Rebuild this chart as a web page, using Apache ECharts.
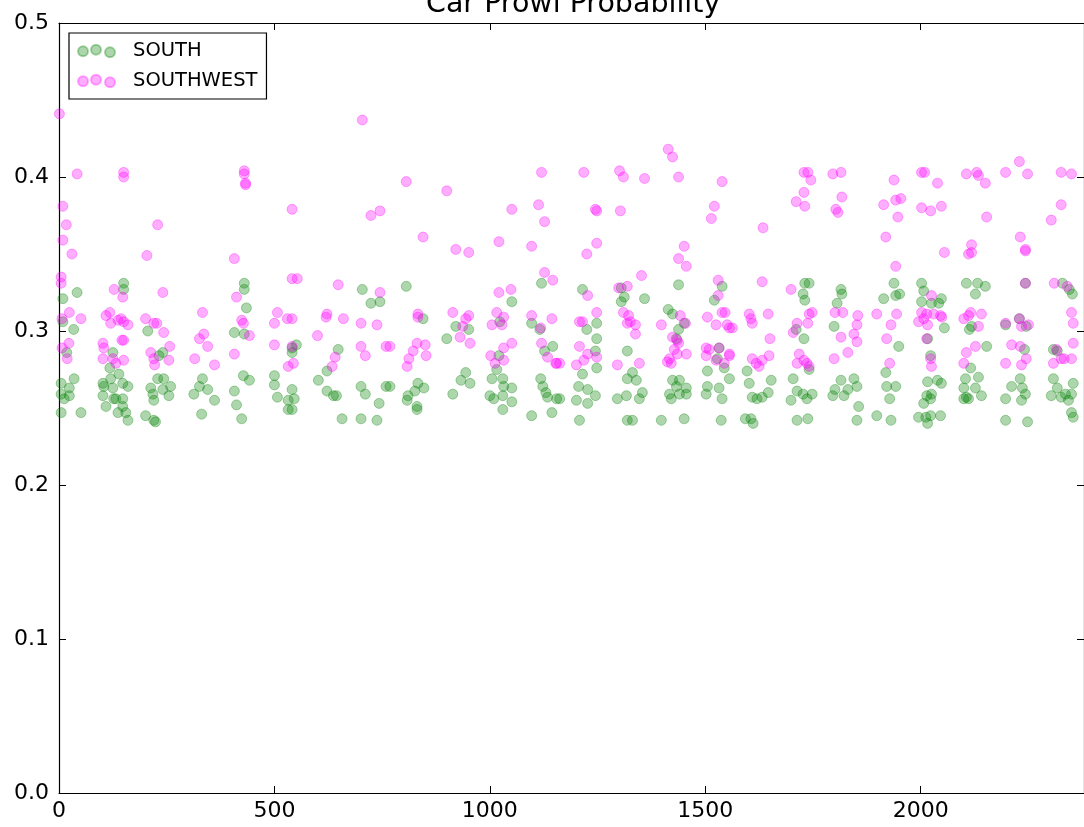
<!DOCTYPE html>
<html>
<head>
<meta charset="utf-8">
<script src="https://cdn.jsdelivr.net/npm/echarts@6/dist/echarts.min.js"></script>
<style>
  html, body { margin: 0; padding: 0; background: #fff; overflow: hidden; }
  #chart { width: 1084px; height: 827px; }
</style>
</head>
<body>
<div id="chart"></div>
<script>
// Car prowl probability per district sample index
const titleText = 'Car Prowl Probability';
const seriesNames = ['SOUTH', 'SOUTHWEST'];
const xTicks = [0, 500, 1000, 1500, 2000];
const yTicks = [0.0, 0.1, 0.2, 0.3, 0.4, 0.5];

const southPoints = [
  [150,0.331],[150,0.327],[42,0.325],[9,0.321],[9,0.306],[34,0.301],[206,0.300],[18,0.286],[125,0.286],[118,0.276],[241,0.286],[232,0.284],
  [35,0.269],[5,0.266],[24,0.263],[5,0.259],[24,0.258],[12,0.256],[51,0.247],[5,0.247],
  [102,0.266],[104,0.264],[120,0.269],[139,0.272],[148,0.266],[160,0.264],[125,0.263],[102,0.258],[127,0.256],[109,0.251],[132,0.256],[148,0.256],[148,0.251],[137,0.247],[155,0.247],[160,0.242],
  [213,0.263],[229,0.269],[243,0.269],[259,0.264],[218,0.259],[241,0.262],[255,0.258],[220,0.255],[201,0.245],[220,0.242],[224,0.241],
  [333,0.269],[326,0.264],[345,0.262],[313,0.259],[361,0.255],[331,0.246],
  [430,0.331],[430,0.327],[435,0.315],[407,0.299],[430,0.298],[704,0.327],[724,0.318],[745,0.319],[541,0.289],[551,0.291],[541,0.286],[648,0.288],[622,0.274],
  [428,0.271],[442,0.268],[407,0.261],[412,0.252],[424,0.243],
  [500,0.271],[500,0.265],[507,0.257],[541,0.262],[532,0.255],[546,0.256],[532,0.249],[541,0.249],
  [602,0.268],[622,0.261],[637,0.258],[644,0.258],[657,0.243],
  [701,0.264],[711,0.259],[759,0.264],[743,0.253],[701,0.243],[738,0.242],
  [806,0.329],[1120,0.331],[1051,0.319],[845,0.308],[921,0.303],[951,0.301],[900,0.295],
  [1023,0.306],[1097,0.305],[1116,0.301],[1146,0.290],[1127,0.287],[1021,0.284],[1016,0.275],
  [944,0.273],[933,0.268],[954,0.266],[914,0.259],
  [833,0.266],[847,0.263],[826,0.261],[810,0.258],[808,0.255],[831,0.251],[831,0.249],[768,0.264],
  [1005,0.269],[1030,0.269],[1032,0.264],[1051,0.263],[1000,0.258],[1030,0.258],[1009,0.256],[1051,0.254],[1030,0.249],
  [1118,0.269],[1123,0.264],[1130,0.260],[1134,0.257],[1155,0.256],[1097,0.245],[1144,0.247],
  [1215,0.327],[1305,0.328],[1312,0.322],[1305,0.319],[1359,0.321],[1438,0.330],[1539,0.329],[1521,0.320],
  [1414,0.314],[1424,0.311],[1438,0.301],[1451,0.305],[1433,0.295],
  [1248,0.305],[1225,0.301],[1248,0.295],[1245,0.287],[1248,0.276],[1215,0.272],[1206,0.264],[1227,0.262],[1245,0.258],[1201,0.255],[1227,0.253],[1208,0.242],[1162,0.256],
  [1319,0.287],[1331,0.273],[1319,0.269],[1340,0.268],[1354,0.260],[1317,0.258],[1296,0.256],[1347,0.256],[1319,0.242],[1331,0.242],
  [1398,0.242],[1451,0.243],
  [1424,0.268],[1440,0.268],[1433,0.264],[1456,0.263],[1417,0.259],[1440,0.259],[1456,0.259],[1421,0.256],
  [1532,0.289],[1528,0.282],[1544,0.276],[1505,0.274],[1556,0.269],[1505,0.264],[1532,0.263],[1502,0.259],[1539,0.256],[1537,0.242],
  [1731,0.331],[1741,0.331],[1727,0.324],[1731,0.320],[1815,0.327],[1817,0.324],[1806,0.318],
  [1938,0.331],[1914,0.321],[1942,0.323],[1951,0.324],
  [1711,0.301],[1729,0.295],[1799,0.303],[1949,0.290],
  [1597,0.274],[1602,0.266],[1609,0.257],[1620,0.256],[1632,0.257],[1646,0.260],[1653,0.268],[1593,0.243],[1606,0.243],[1611,0.240],
  [1741,0.275],[1704,0.269],[1699,0.255],[1713,0.261],[1727,0.259],[1736,0.256],[1748,0.259],[1713,0.242],[1738,0.243],
  [1815,0.268],[1845,0.269],[1852,0.264],[1801,0.262],[1796,0.258],[1822,0.258],[1831,0.262],[1856,0.251],[1852,0.242],[1898,0.245],
  [1919,0.273],[1921,0.264],[1942,0.264],[1928,0.256],[1931,0.242],
  [2002,0.331],[2007,0.326],[2002,0.319],[2025,0.318],[2042,0.318],[2048,0.321],[2055,0.302],
  [2106,0.331],[2132,0.331],[2150,0.329],[2127,0.324],[2118,0.303],[2113,0.301],
  [2243,0.331],[2329,0.331],[2345,0.327],[2352,0.324],
  [2197,0.304],[2229,0.308],[2245,0.303],
  [2016,0.295],[2153,0.290],[2116,0.276],
  [2023,0.284],[2016,0.267],[2039,0.268],[2048,0.266],[2014,0.258],[2025,0.259],[2023,0.256],[2007,0.253],[1995,0.244],[2012,0.244],[2023,0.245],[2046,0.245],[2016,0.240],
  [2104,0.269],[2100,0.263],[2134,0.270],[2127,0.263],[2106,0.257],[2141,0.258],[2100,0.256],[2111,0.256],
  [2241,0.288],[2231,0.269],[2211,0.264],[2236,0.263],[2243,0.259],[2197,0.256],[2234,0.255],[2197,0.242],[2248,0.241],
  [2308,0.288],[2317,0.287],[2308,0.269],[2317,0.263],[2336,0.259],[2303,0.258],[2326,0.257],[2350,0.259],[2343,0.255],[2354,0.266],[2350,0.247],[2354,0.244]
];

const southwestPoints = [
  [1,0.441],[42,0.402],[150,0.403],[150,0.400],[9,0.381],[17,0.369],[9,0.359],[30,0.350],[229,0.369],[204,0.349],[5,0.335],[5,0.331],[241,0.325],[128,0.327],[148,0.322],
  [24,0.312],[51,0.308],[7,0.308],
  [109,0.310],[118,0.312],[120,0.305],[137,0.307],[144,0.308],[150,0.306],[160,0.304],
  [201,0.308],[220,0.305],[227,0.305],[243,0.299],[257,0.290],
  [333,0.312],[336,0.298],[326,0.295],[345,0.290],[361,0.278],[315,0.282],
  [23,0.292],[19,0.282],[7,0.289],
  [102,0.292],[104,0.289],[102,0.282],[125,0.282],[132,0.279],[150,0.294],[146,0.294],[150,0.281],
  [213,0.286],[220,0.282],[222,0.278],[255,0.281],
  [704,0.437],[430,0.404],[430,0.402],[433,0.396],[433,0.395],[541,0.379],[724,0.375],[745,0.378],[407,0.347],[541,0.334],[553,0.334],[648,0.330],[745,0.325],[412,0.322],
  [507,0.312],[500,0.305],[530,0.308],[541,0.308],[424,0.307],[428,0.305],[442,0.297],
  [622,0.311],[620,0.309],[660,0.308],[701,0.305],[738,0.304],[600,0.297],
  [407,0.285],[500,0.291],[541,0.290],[544,0.279],[532,0.277],
  [641,0.283],[634,0.277],[701,0.290],[711,0.284],[759,0.290],
  [806,0.397],[900,0.391],[1120,0.403],[1051,0.379],[1113,0.382],[1127,0.371],[845,0.361],[921,0.353],[951,0.351],[1021,0.358],[1097,0.355],[1127,0.338],[1146,0.333],[1021,0.325],[1049,0.327],
  [833,0.311],[833,0.309],
  [914,0.312],[951,0.310],[944,0.308],[937,0.303],[931,0.296],[954,0.292],
  [1016,0.312],[1032,0.309],[1005,0.304],[1028,0.304],
  [1097,0.310],[1118,0.302],[1144,0.308],
  [831,0.292],[850,0.291],[822,0.287],[852,0.284],[812,0.282],[808,0.277],
  [1032,0.289],[1051,0.292],[1002,0.284],[1032,0.281],[1012,0.279],
  [1120,0.292],[1134,0.283],[1153,0.279],[1155,0.279],[768,0.290],
  [1414,0.418],[1424,0.413],[1218,0.403],[1301,0.404],[1310,0.400],[1359,0.399],[1438,0.400],[1539,0.397],
  [1245,0.379],[1248,0.378],[1303,0.378],[1521,0.381],[1514,0.373],
  [1248,0.357],[1225,0.350],[1451,0.355],[1438,0.347],[1456,0.342],
  [1352,0.336],[1319,0.329],[1299,0.328],[1530,0.333],[1530,0.323],
  [1227,0.323],[1248,0.312],[1208,0.306],[1215,0.306],
  [1310,0.312],[1322,0.310],[1326,0.306],[1319,0.305],[1338,0.304],[1338,0.298],
  [1398,0.304],[1442,0.310],[1454,0.305],[1424,0.296],[1435,0.294],[1438,0.292],[1428,0.288],[1456,0.285],[1435,0.285],[1417,0.282],[1421,0.279],[1412,0.280],
  [1505,0.309],[1525,0.304],[1539,0.312],[1546,0.312],[1551,0.304],[1556,0.302],
  [1208,0.290],[1227,0.285],[1218,0.281],[1201,0.278],[1248,0.283],[1162,0.279],
  [1296,0.278],[1347,0.279],
  [1502,0.289],[1509,0.288],[1532,0.289],[1502,0.284],[1525,0.281],[1544,0.279],[1556,0.285],
  [1729,0.403],[1738,0.403],[1745,0.398],[1796,0.402],[1815,0.403],[1938,0.398],
  [1729,0.390],[1711,0.384],[1731,0.381],[1817,0.387],[1803,0.379],[1808,0.377],
  [1914,0.382],[1942,0.385],[1954,0.386],[1947,0.374],
  [1634,0.367],[1919,0.361],[1942,0.342],[1632,0.332],[1699,0.327],
  [1602,0.311],[1606,0.308],[1609,0.305],[1646,0.311],[1563,0.302],[1650,0.295],
  [1741,0.311],[1748,0.312],[1738,0.305],[1713,0.305],[1704,0.299],
  [1801,0.312],[1819,0.312],[1854,0.310],[1852,0.304],[1845,0.298],[1852,0.293],[1815,0.296],[1831,0.286],[1799,0.282],
  [1898,0.311],[1944,0.311],[1931,0.304],[1921,0.295],
  [1556,0.284],[1609,0.282],[1618,0.279],[1625,0.277],[1632,0.281],[1648,0.284],
  [1718,0.285],[1713,0.279],[1729,0.281],[1736,0.279],[1741,0.277],[1928,0.279],
  [2002,0.403],[2009,0.403],[2039,0.396],[2106,0.402],[2130,0.403],[2134,0.401],[2150,0.396],
  [2229,0.410],[2197,0.403],[2248,0.402],[2326,0.403],[2350,0.402],
  [2002,0.380],[2023,0.378],[2048,0.381],[2153,0.374],[2326,0.382],[2303,0.372],
  [2055,0.351],[2118,0.356],[2111,0.350],[2118,0.351],[2231,0.361],[2243,0.352],[2243,0.353],
  [2025,0.323],[2243,0.331],[2310,0.331],[2340,0.329],
  [2002,0.312],[2014,0.311],[2030,0.311],[2046,0.310],[1995,0.306],[2016,0.304],[2007,0.308],[2049,0.309],
  [2100,0.308],[2116,0.312],[2111,0.310],[2141,0.311],[2134,0.303],
  [2197,0.305],[2229,0.308],[2250,0.304],[2234,0.303],
  [2350,0.312],[2354,0.305],[2354,0.292],
  [2014,0.295],[2023,0.282],[2025,0.277],
  [2106,0.286],[2100,0.279],[2127,0.290],
  [2211,0.291],[2231,0.290],[2245,0.282],[2197,0.279],[2234,0.278],
  [2315,0.288],[2326,0.282],[2333,0.282],[2350,0.282],[2308,0.279]
];

const xMax = 2379;
const fontFamily = '"DejaVu Sans", sans-serif';
const green = 'rgba(0,128,0,0.4)';
const magenta = 'rgba(255,0,255,0.4)';

// three staggered dots, like a scatter legend handle
const dotsIcon = 'path://M0,6.7a5,5 0 1,0 10,0a5,5 0 1,0 -10,0Z' +
  'M13,5a5,5 0 1,0 10,0a5,5 0 1,0 -10,0Z' +
  'M27,7.7a5,5 0 1,0 10,0a5,5 0 1,0 -10,0Z';

const tickStyle = { show: true, inside: true, length: 7, lineStyle: { color: '#000', width: 1 } };
const lineStyle = { show: true, onZero: false, lineStyle: { color: '#000', width: 1.2 } };

const chart = echarts.init(document.getElementById('chart'), null, { renderer: 'canvas' });
chart.setOption({
  backgroundColor: '#fff',
  animation: false,
  title: {
    text: titleText,
    left: 421,
    top: -15,
    textStyle: { fontFamily, fontSize: 28.5, fontWeight: 'normal', color: '#000' }
  },
  legend: {
    orient: 'vertical',
    left: 69,
    top: 33,
    padding: [8, 9, 8, 8],
    itemGap: 10,
    itemWidth: 37,
    itemHeight: 13,
    icon: dotsIcon,
    borderColor: '#000',
    borderWidth: 1.2,
    borderRadius: 0,
    textStyle: { fontFamily, fontSize: 19.5, color: '#000', padding: [0, 0, 0, 13] },
    data: seriesNames
  },
  grid: { left: 59, right: -1, top: 23, bottom: 34, containLabel: false },
  xAxis: [
    {
      type: 'value', min: 0, max: xMax, interval: 500, position: 'bottom',
      axisLine: lineStyle, axisTick: tickStyle, splitLine: { show: false },
      axisLabel: {
        show: true, margin: 7, showMaxLabel: false, color: '#000', fontFamily, fontSize: 22,
        formatter: v => (xTicks.includes(v) ? String(v) : '')
      }
    },
    {
      type: 'value', min: 0, max: xMax, interval: 500, position: 'top',
      axisLine: lineStyle, axisTick: tickStyle, splitLine: { show: false }, axisLabel: { show: false }
    }
  ],
  yAxis: [
    {
      type: 'value', min: 0, max: 0.5, interval: 0.1, position: 'left',
      axisLine: lineStyle, axisTick: tickStyle, splitLine: { show: false },
      axisLabel: {
        show: true, margin: 10, color: '#000', fontFamily, fontSize: 22,
        formatter: v => Number(v).toFixed(1)
      }
    },
    {
      type: 'value', min: 0, max: 0.5, interval: 0.1, position: 'right',
      axisLine: lineStyle, axisTick: tickStyle, splitLine: { show: false }, axisLabel: { show: false }
    }
  ],
  series: [
    {
      name: seriesNames[0], type: 'scatter', xAxisIndex: 0, yAxisIndex: 0,
      symbol: 'circle', symbolSize: 10,
      itemStyle: { color: green, borderColor: green, borderWidth: 1 },
      data: southPoints
    },
    {
      name: seriesNames[1], type: 'scatter', xAxisIndex: 0, yAxisIndex: 0,
      symbol: 'circle', symbolSize: 10,
      itemStyle: { color: magenta, borderColor: magenta, borderWidth: 1 },
      data: southwestPoints
    }
  ]
});
</script>
</body>
</html>
